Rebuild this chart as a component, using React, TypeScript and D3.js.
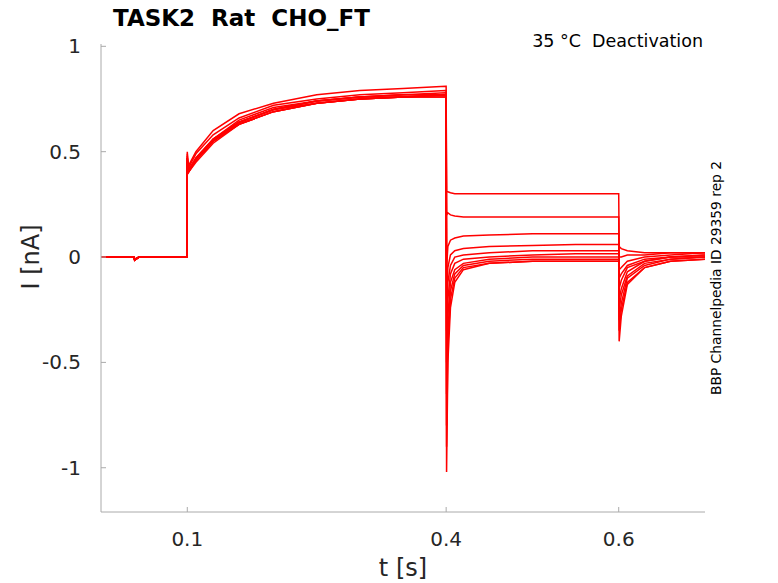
import * as d3 from "d3";

const TIMES = [0, 0.038, 0.039, 0.044, 0.0995, 0.1, 0.101, 0.11, 0.13, 0.16, 0.2, 0.25, 0.3, 0.35, 0.3995,
  0.4, 0.4005, 0.402, 0.405, 0.41, 0.42, 0.45, 0.5, 0.55, 0.5995, 0.6, 0.6005, 0.603, 0.61, 0.63, 0.66, 0.7];

const TRACES: number[][] = [
  [0, 0, -0.015, 0, 0, 0.5, 0.43, 0.5, 0.6, 0.68, 0.73, 0.77, 0.79, 0.8, 0.81,
    0.81, 0.31, 0.31, 0.305, 0.3, 0.3, 0.3, 0.3, 0.3, 0.3, 0.3, 0.05, 0.04, 0.03, 0.02, 0.02, 0.02],
  [0, 0, -0.01, 0, 0, 0.49, 0.42, 0.49, 0.58, 0.66, 0.72, 0.75, 0.77, 0.78, 0.79,
    0.79, 0.2, 0.21, 0.2, 0.195, 0.19, 0.19, 0.19, 0.19, 0.19, 0.19, 0.0, 0.0, 0.01, 0.01, 0.02, 0.02],
  [0, 0, -0.015, 0, 0, 0.48, 0.41, 0.47, 0.56, 0.65, 0.71, 0.74, 0.76, 0.77, 0.78,
    0.78, -0.05, 0.05, 0.08, 0.09, 0.1, 0.105, 0.11, 0.11, 0.11, 0.11, -0.06, -0.05, -0.02, 0.0, 0.01, 0.02],
  [0, 0, -0.012, 0, 0, 0.47, 0.41, 0.46, 0.55, 0.64, 0.7, 0.74, 0.76, 0.77, 0.77,
    0.77, -0.2, -0.05, 0.01, 0.03, 0.04, 0.05, 0.055, 0.06, 0.06, 0.06, -0.1, -0.08, -0.04, -0.01, 0.0, 0.01],
  [0, 0, -0.015, 0, 0, 0.46, 0.4, 0.46, 0.55, 0.63, 0.69, 0.73, 0.75, 0.76, 0.77,
    0.77, -0.35, -0.12, -0.04, 0.0, 0.01, 0.02, 0.03, 0.03, 0.03, 0.03, -0.15, -0.11, -0.05, -0.02, 0.0, 0.01],
  [0, 0, -0.01, 0, 0, 0.47, 0.41, 0.47, 0.56, 0.64, 0.7, 0.74, 0.76, 0.76, 0.77,
    0.77, -0.5, -0.2, -0.08, -0.03, -0.01, 0.0, 0.01, 0.015, 0.015, 0.015, -0.2, -0.15, -0.07, -0.02, 0.0, 0.0],
  [0, 0, -0.015, 0, 0, 0.46, 0.4, 0.45, 0.54, 0.63, 0.69, 0.73, 0.75, 0.76, 0.76,
    0.76, -0.65, -0.28, -0.12, -0.06, -0.03, -0.01, 0.0, 0.0, 0.0, 0.0, -0.25, -0.18, -0.09, -0.03, -0.01, 0.0],
  [0, 0, -0.012, 0, 0, 0.47, 0.41, 0.46, 0.55, 0.64, 0.7, 0.73, 0.75, 0.76, 0.77,
    0.77, -0.8, -0.35, -0.16, -0.08, -0.04, -0.02, -0.01, -0.01, -0.01, -0.01, -0.3, -0.22, -0.1, -0.04, -0.01, 0.0],
  [0, 0, -0.015, 0, 0, 0.46, 0.4, 0.46, 0.55, 0.63, 0.69, 0.73, 0.75, 0.76, 0.76,
    0.76, -0.9, -0.42, -0.2, -0.1, -0.05, -0.03, -0.02, -0.02, -0.02, -0.02, -0.35, -0.25, -0.12, -0.05, -0.02, -0.01],
  [0, 0, -0.01, 0, 0, 0.47, 0.41, 0.46, 0.56, 0.64, 0.7, 0.74, 0.76, 0.77, 0.77,
    0.77, -1.02, -0.5, -0.24, -0.12, -0.06, -0.03, -0.02, -0.02, -0.02, -0.02, -0.4, -0.28, -0.13, -0.05, -0.02, -0.01],
];

const X_TICKS = [0.1, 0.4, 0.6];
const Y_TICKS = [1, 0.5, 0, -0.5, -1];

const W = 778, H = 583;
const M = { left: 101, right: 73, top: 44, bottom: 71 };
const FONT = "DejaVu Sans, sans-serif";

export default function App() {
  const x = d3.scaleLinear().domain([0, 0.7]).range([M.left, W - M.right]);
  const y = d3.scaleLinear().domain([-1.21, 1.011]).range([H - M.bottom, M.top]);
  const line = d3.line<number>().x((_, i) => x(TIMES[i])).y((v) => y(v));
  const axisColor = "#262626";
  return (
    <svg width={W} height={H} style={{ position: "absolute", left: 0, top: 0, background: "#fff" }} fontFamily={FONT}>
      <g fill="none" stroke="#ff0000" strokeWidth={1.5}>
        {TRACES.map((t, i) => <path key={i} d={line(t) ?? ""} />)}
      </g>
      <line x1={M.left} x2={M.left} y1={M.top} y2={H - M.bottom} stroke="#aaa" />
      <line x1={M.left} x2={W - M.right} y1={H - M.bottom} y2={H - M.bottom} stroke="#aaa" />
      {Y_TICKS.map((t) => (
        <g key={t}>
          <line x1={M.left} x2={M.left + 5} y1={y(t)} y2={y(t)} stroke="#aaa" />
          <text x={M.left - 20} y={y(t)} dy="0.35em" textAnchor="end" fontSize={20} fill={axisColor}>{t}</text>
        </g>
      ))}
      {X_TICKS.map((t) => (
        <g key={t}>
          <line x1={x(t)} x2={x(t)} y1={H - M.bottom} y2={H - M.bottom - 5} stroke="#aaa" />
          <text x={x(t)} y={H - M.bottom + 34} textAnchor="middle" fontSize={20} fill={axisColor}>{t}</text>
        </g>
      ))}
      <text x={403} y={576} textAnchor="middle" fontSize={24} fill={axisColor}>t [s]</text>
      <text transform={`translate(39,${y(0)}) rotate(-90)`} textAnchor="middle" fontSize={24} fill={axisColor}>I [nA]</text>
      <text x={113} y={26} fontSize={23} fontWeight="bold" fill="#000" xmlSpace="preserve">TASK2  Rat  CHO_FT</text>
      <text x={703} y={47} textAnchor="end" fontSize={17.5} fill="#000" xmlSpace="preserve">35 °C  Deactivation</text>
      <text transform="translate(721,278) rotate(-90)" textAnchor="middle" fontSize={13.8} fill="#000">BBP Channelpedia ID 29359 rep 2</text>
    </svg>
  );
}
